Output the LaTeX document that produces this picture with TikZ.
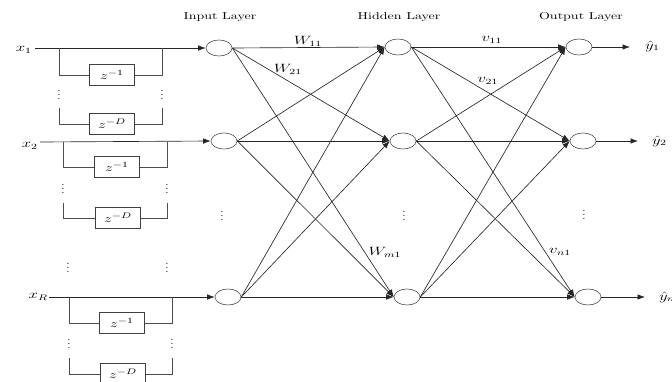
\documentclass[tikz,border=0pt]{standalone}
\usepackage{graphicx}
\usetikzlibrary{shapes.geometric,arrows.meta}
\newcommand{\hs}[1]{\scalebox{1.4}[1]{#1}}
\tikzset{
  neuron/.style={ellipse, draw=black!70, line width=0.6pt, minimum width=26pt, minimum height=16pt, inner sep=0pt},
  dbox/.style={draw=black!75, line width=0.7pt, minimum width=45pt, minimum height=21pt, inner sep=0pt, font=\fontsize{11}{13}\selectfont},
  lbl/.style={font=\fontsize{12}{14}\selectfont, inner sep=1pt},
  ttl/.style={font=\fontsize{10}{12}\selectfont, inner sep=1pt},
  dts/.style={font=\fontsize{12}{14}\selectfont\boldmath, inner sep=0pt},
  conn/.style={draw=black!85, line width=0.65pt, -{Latex[length=7.5pt,width=5.5pt]}},
  wire/.style={draw=black!70, line width=0.7pt}
}
\begin{document}
\begin{tikzpicture}[x=1pt,y=1pt]
\useasboundingbox (0,0) rectangle (672,-381);
\clip (0,0) rectangle (672,-381);
% titles
\node[ttl] (tin) at (220,-17) {\hs{Input Layer}};
\node[ttl] (thid) at (399,-17) {\hs{Hidden Layer}};
\node[ttl] (tout) at (581,-17) {\hs{Output Layer}};
% neurons
\node[neuron] (i1) at (219,-48) {};
\node[neuron] (i2) at (224,-141) {};
\node[neuron] (i3) at (228,-297) {};
\node[neuron] (h1) at (398,-47) {};
\node[neuron] (h2) at (403,-141) {};
\node[neuron] (h3) at (407,-297) {};
\node[neuron] (o1) at (579,-47) {};
\node[neuron] (o2) at (583,-141) {};
\node[neuron] (o3) at (588,-297) {};
% layer dots
\node[dts] (di) at (222,-213) {$\vdots$};
\node[dts] (dh) at (404,-213) {$\vdots$};
\node[dts] (do) at (584,-212) {$\vdots$};
% connections
\foreach \s in {i1,i2,i3}{
  \foreach \t in {h1,h2,h3}{
    \draw[conn] (\s.east) -- (\t.west);
  }
}
\foreach \s in {h1,h2,h3}{
  \foreach \t in {o1,o2,o3}{
    \draw[conn] (\s.east) -- (\t.west);
  }
}
% weight labels
\node[lbl] (w11) at (308,-41) {\hs{$W_{11}$}};
\node[lbl] (w21) at (288,-69) {\hs{$W_{21}$}};
\node[lbl] (wm1) at (385,-252) {\hs{$W_{m1}$}};
\node[lbl] (v11) at (492,-40) {\hs{$v_{11}$}};
\node[lbl] (v21) at (488,-81) {\hs{$v_{21}$}};
\node[lbl] (vn1) at (560,-252) {\hs{$v_{n1}$}};
% outputs
\coordinate (e1) at (630,-47);
\coordinate (e2) at (638,-141);
\coordinate (e3) at (645,-297);
\draw[conn] (o1.east) -- (e1);
\draw[conn] (o2.east) -- (e2);
\draw[conn] (o3.east) -- (e3);
\node[lbl, anchor=west] (y1) at (644,-46) {\hs{$\hat{y}_1$}};
\node[lbl, anchor=west] (y2) at (651,-141) {\hs{$\hat{y}_2$}};
\node[lbl, anchor=west] (y3) at (658,-297) {\hs{$\hat{y}_n$}};
% inputs
\coordinate (s1) at (35,-48);
\coordinate (s2) at (40,-142);
\coordinate (s3) at (49,-297);
\node[lbl, anchor=east] (x1) at (33,-50) {\hs{$x_1$}};
\node[lbl, anchor=east] (x2) at (39,-146) {\hs{$x_2$}};
\node[lbl, anchor=east] (xR) at (49,-297) {\hs{$x_R$}};
\draw[conn] (s1) -- (i1.west);
\draw[conn] (s2) -- (i2.west);
\draw[conn] (s3) -- (i3.west);
% delay boxes row 1
\node[dbox] (a1) at (112,-75) {\hs{$z^{-1}$}};
\node[dbox] (a2) at (112,-124) {\hs{$z^{-D}$}};
\draw[wire] (59,-48) |- (a1.west);
\draw[wire] (162,-48) |- (a1.east);
\draw[wire] (59,-108) |- (a2.west);
\draw[wire] (162,-108) |- (a2.east);
\node[dts] (ad1) at (59,-92) {$\vdots$};
\node[dts] (ad2) at (162,-92) {$\vdots$};
% delay boxes row 2
\node[dbox] (b1) at (117,-167) {\hs{$z^{-1}$}};
\node[dbox] (b2) at (118,-218) {\hs{$z^{-D}$}};
\draw[wire] (63,-142) |- (b1.west);
\draw[wire] (167,-142) |- (b1.east);
\draw[wire] (63,-203) |- (b2.west);
\draw[wire] (167,-203) |- (b2.east);
\node[dts] (bd1) at (63,-186) {$\vdots$};
\node[dts] (bd2) at (167,-186) {$\vdots$};
% dots between rows
\node[dts] (md1) at (68,-265) {$\vdots$};
\node[dts] (md2) at (167,-265) {$\vdots$};
% delay boxes row 3
\node[dbox] (c1) at (122,-323) {\hs{$z^{-1}$}};
\node[dbox] (c2) at (123,-374) {\hs{$z^{-D}$}};
\draw[wire] (69,-297) |- (c1.west);
\draw[wire] (172,-297) |- (c1.east);
\draw[wire] (69,-358) |- (c2.west);
\draw[wire] (172,-358) |- (c2.east);
\node[dts] (cd1) at (69,-341) {$\vdots$};
\node[dts] (cd2) at (172,-341) {$\vdots$};
\end{tikzpicture}
\end{document}
